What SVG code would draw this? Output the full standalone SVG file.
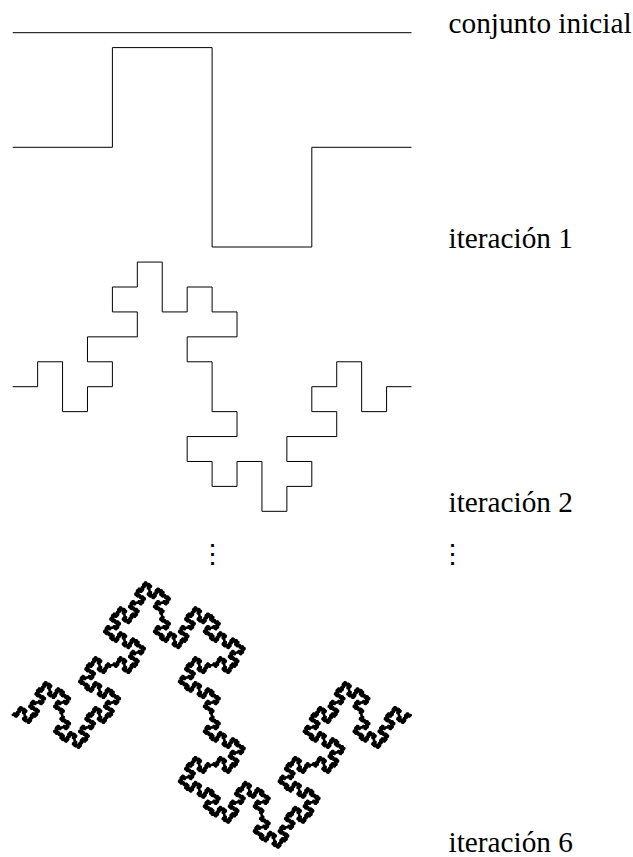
<svg xmlns="http://www.w3.org/2000/svg" width="633" height="857" viewBox="0 0 633 857">
<style>
.ln{fill:none;stroke:#000;stroke-width:1}
.lbl{font-family:"Liberation Serif","Times New Roman",serif;font-size:29.3px;fill:#000}
.dots{font-family:"DejaVu Serif",serif;font-size:27px;fill:#000;text-anchor:middle}
</style>
<defs>
<path id="L2" fill="none" stroke="#000" d="M0 0h1v-1h1v2h1v-1h1v-1h-1v-1h2v-1h-1v-1h1v-1h1v2h1v-1h1v1h1v1h-2v1h1v2h1v1h-2v1h1v1h1v-1h1v2h1v-1h1v-1h-1v-1h2v-1h-1v-1h1v-1h1v2h1v-1h1"/>
<g id="L3">
<use href="#L2" transform="scale(.25)"/>
<use href="#L2" transform="translate(4 0) rotate(-90) scale(.25)"/>
<use href="#L2" transform="translate(4 -4) scale(.25)"/>
<use href="#L2" transform="translate(8 -4) rotate(90) scale(.25)"/>
<use href="#L2" transform="translate(8 0) rotate(90) scale(.25)"/>
<use href="#L2" transform="translate(8 4) scale(.25)"/>
<use href="#L2" transform="translate(12 4) rotate(-90) scale(.25)"/>
<use href="#L2" transform="translate(12 0) scale(.25)"/>
</g>
<g id="L4">
<use href="#L3" transform="scale(.25)"/>
<use href="#L3" transform="translate(4 0) rotate(-90) scale(.25)"/>
<use href="#L3" transform="translate(4 -4) scale(.25)"/>
<use href="#L3" transform="translate(8 -4) rotate(90) scale(.25)"/>
<use href="#L3" transform="translate(8 0) rotate(90) scale(.25)"/>
<use href="#L3" transform="translate(8 4) scale(.25)"/>
<use href="#L3" transform="translate(12 4) rotate(-90) scale(.25)"/>
<use href="#L3" transform="translate(12 0) scale(.25)"/>
</g>
<g id="L5">
<use href="#L4" transform="scale(.25)"/>
<use href="#L4" transform="translate(4 0) rotate(-90) scale(.25)"/>
<use href="#L4" transform="translate(4 -4) scale(.25)"/>
<use href="#L4" transform="translate(8 -4) rotate(90) scale(.25)"/>
<use href="#L4" transform="translate(8 0) rotate(90) scale(.25)"/>
<use href="#L4" transform="translate(8 4) scale(.25)"/>
<use href="#L4" transform="translate(12 4) rotate(-90) scale(.25)"/>
<use href="#L4" transform="translate(12 0) scale(.25)"/>
</g>
<g id="L6">
<use href="#L5" transform="scale(.25)"/>
<use href="#L5" transform="translate(4 0) rotate(-90) scale(.25)"/>
<use href="#L5" transform="translate(4 -4) scale(.25)"/>
<use href="#L5" transform="translate(8 -4) rotate(90) scale(.25)"/>
<use href="#L5" transform="translate(8 0) rotate(90) scale(.25)"/>
<use href="#L5" transform="translate(8 4) scale(.25)"/>
<use href="#L5" transform="translate(12 4) rotate(-90) scale(.25)"/>
<use href="#L5" transform="translate(12 0) scale(.25)"/>
</g>
</defs>
<rect width="633" height="857" fill="#fff"/>
<g id="conjunto-inicial"><path class="ln" d="M12.7 32.7H411.5"/></g>
<g id="iteracion-1"><path class="ln" d="M12.7 147.3h99.7v-99.7h99.7v199.4h99.7v-99.7h99.7"/></g>
<g id="iteracion-2"><use href="#L2" transform="translate(12.7 386.7) scale(24.925)" stroke-width="0.04012"/></g>
<g id="iteracion-6"><use href="#L6" transform="translate(12.2 715) scale(24.95)" stroke-width="15"/></g>
<g id="labels">
<text class="lbl" x="448.5" y="33">conjunto inicial</text>
<text class="lbl" x="448.5" y="248">iteración 1</text>
<text class="lbl" x="448.5" y="511.5">iteración 2</text>
<text class="lbl" x="448.5" y="852">iteración 6</text>
</g>
<g id="ellipses">
<text class="dots" x="212.3" y="563">⋮</text>
<text class="dots" x="452.7" y="563">⋮</text>
</g>
</svg>
